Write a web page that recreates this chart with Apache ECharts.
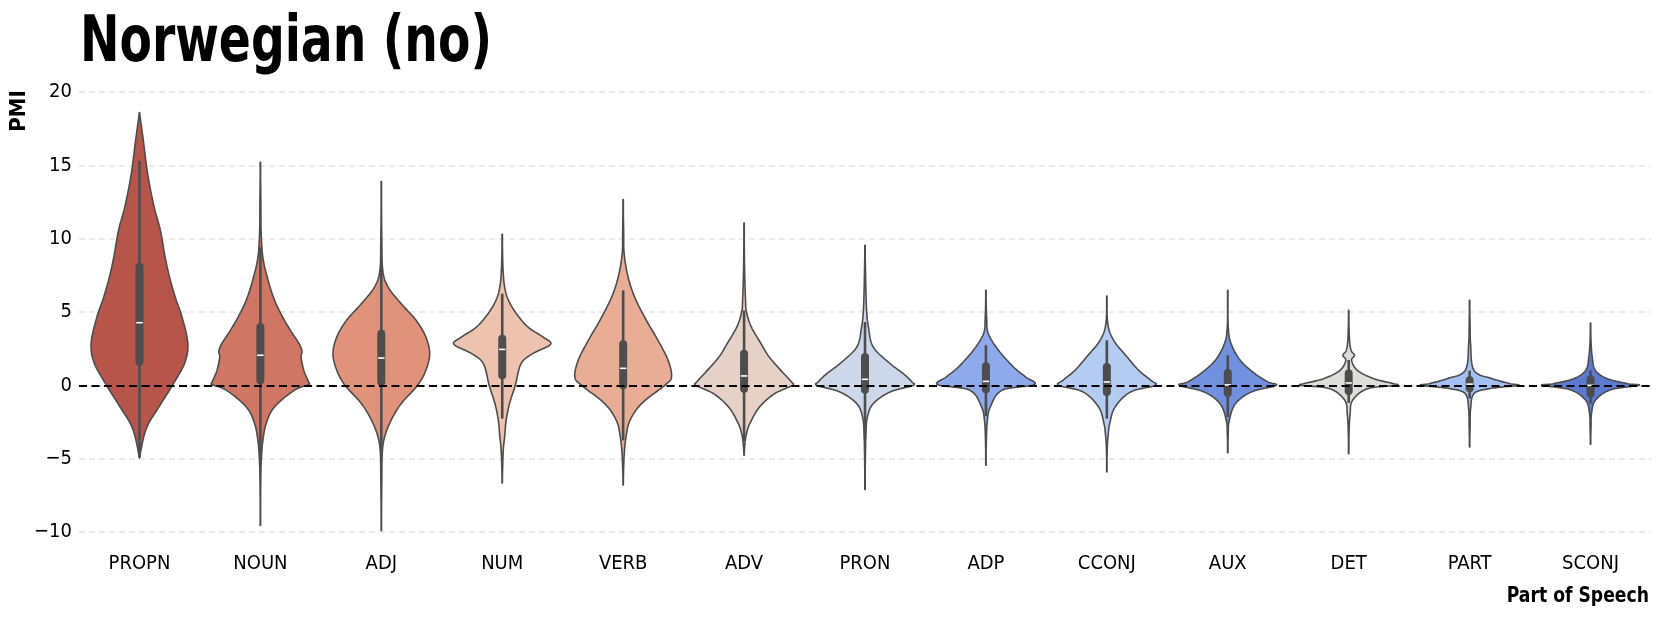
<!DOCTYPE html>
<html>
<head>
<meta charset="utf-8">
<script src="https://cdn.jsdelivr.net/npm/echarts@6/dist/echarts.min.js"></script>
<style>
html,body{margin:0;padding:0;background:#fff;}
#chart{width:1661px;height:619px;}
</style>
</head>
<body>
<div id="chart"></div>
<script>
const FONT = "'DejaVu Sans Condensed', 'Roboto', sans-serif";

const categories = ['PROPN','NOUN','ADJ','NUM','VERB','ADV','PRON','ADP','CCONJ','AUX','DET','PART','SCONJ'];
const colors = ['#b8554b','#d07664','#e0927b','#edc3b0','#e9ad96','#e6d1c6','#ccd8ea','#8eaaec','#b5ccf2','#7190e0','#dddddc','#a3c0f4','#5d7ad3'];
const yTicks = [-10, -5, 0, 5, 10, 15, 20];

// box statistics
const q1          = [1.6, 0.34, 0.23, 0.68, 0.0, -0.23, -0.3, -0.27, -0.45, -0.52, -0.39, -0.2, -0.57];
const medians     = [4.27, 2.05, 1.86, 2.45, 1.16, 0.64, 0.41, 0.27, 0.23, 0.03, 0.16, 0.08, 0.0];
const q3          = [8.07, 3.98, 3.52, 3.18, 2.8, 2.16, 1.93, 1.3, 1.25, 0.84, 0.8, 0.35, 0.39];
const whiskerLow  = [-4.9, -5.1, -4.7, -2.27, -3.75, -3.8, -3.65, -2.1, -2.27, -2.16, -1.2, -0.9, -1.25];
const whiskerHigh = [15.3, 9.4, 8.46, 6.25, 6.48, 5.1, 4.32, 2.73, 3.07, 2.05, 1.73, 1.0, 1.02];

// violin outlines: [PMI value, relative half-width]
const shapePROPN = [[-4.95,0],[-3.5,0.09],[-2.6,0.19],[-1.48,0.40],[0,0.68],[1.48,0.93],[2.84,1.0],[4.66,0.88],[6.0,0.74],[7.4,0.62],[8.75,0.53],[10.6,0.43],[12.2,0.30],[14.4,0.17],[16.7,0.08],[18.6,0]];
const shapeNOUN  = [[-9.55,0],[-6.0,0.01],[-4.8,0.025],[-3.8,0.05],[-2.6,0.12],[-1.48,0.29],[-0.34,0.70],[0.05,1.0],[0.2,1.0],[1.0,0.90],[1.93,0.84],[2.3,0.86],[2.84,0.80],[3.75,0.62],[4.9,0.42],[6.0,0.27],[7.4,0.14],[8.75,0.05],[10.5,0.015],[12.5,0.01],[15.2,0]];
const shapeADJ   = [[-9.9,0],[-6.5,0.01],[-4.6,0.02],[-3.5,0.07],[-2.4,0.20],[-1.25,0.41],[0,0.75],[1.02,0.92],[2.16,1.0],[3.3,0.92],[4.43,0.72],[5.57,0.41],[6.7,0.14],[7.84,0.03],[10.0,0.01],[13.9,0]];
const shapeNUM   = [[-6.66,0],[-4.5,0.02],[-3.5,0.05],[-2.4,0.08],[-1.25,0.15],[0,0.27],[1.48,0.39],[2.16,0.63],[2.8,1.0],[3.3,0.84],[3.98,0.53],[4.9,0.29],[5.8,0.13],[6.7,0.05],[8.0,0.015],[10.3,0]];
const shapeVERB  = [[-6.8,0],[-4.8,0.02],[-3.5,0.06],[-2.4,0.14],[-1.25,0.38],[0,0.86],[0.57,1.0],[1.7,0.93],[3.07,0.72],[4.43,0.48],[6.0,0.24],[7.4,0.10],[8.98,0.02],[10.5,0.01],[12.66,0]];
const shapeADV   = [[-4.77,0],[-3.9,0.02],[-3.3,0.05],[-2.6,0.12],[-1.48,0.32],[-0.57,0.63],[0,1.0],[0.23,0.98],[1.02,0.76],[1.93,0.52],[2.84,0.35],[3.98,0.15],[5.0,0.05],[5.8,0.03],[8.0,0.01],[11.07,0]];
const shapePRON  = [[-7.1,0],[-4.5,0.01],[-3.2,0.02],[-2.16,0.05],[-1.25,0.17],[-0.45,0.52],[0,1.0],[0.23,0.97],[0.8,0.79],[1.48,0.52],[2.61,0.17],[3.98,0.07],[5.0,0.035],[6.25,0.02],[7.8,0.01],[9.55,0]];
const shapeADP   = [[-5.45,0],[-3.6,0.01],[-2.4,0.03],[-1.48,0.09],[-0.34,0.33],[0.05,1.0],[0.57,0.82],[1.25,0.57],[2.39,0.26],[3.52,0.05],[4.6,0.015],[6.48,0]];
const shapeCCONJ = [[-5.9,0],[-4.2,0.01],[-3.3,0.03],[-2.6,0.06],[-1.48,0.17],[-0.45,0.49],[0,1.0],[0.34,0.91],[1.02,0.66],[1.93,0.42],[3.07,0.14],[4.2,0.02],[6.09,0]];
const shapeAUX   = [[-4.6,0],[-3.3,0.01],[-2.4,0.03],[-1.25,0.16],[-0.45,0.49],[0,1.0],[0.23,0.83],[0.8,0.56],[1.7,0.26],[2.84,0.07],[3.98,0.01],[6.48,0]];
const shapeDET   = [[-4.66,0],[-3.0,0.01],[-1.93,0.03],[-1.02,0.08],[-0.23,0.39],[0,1.0],[0.11,0.93],[0.45,0.52],[1.02,0.18],[1.7,0.06],[2.05,0.12],[2.39,0.05],[3.2,0.015],[5.11,0]];
const shapePART  = [[-4.2,0],[-2.8,0.01],[-1.6,0.02],[-0.57,0.09],[-0.23,0.40],[0,1.0],[0.11,0.84],[0.45,0.47],[1.02,0.09],[2.84,0.02],[4.0,0.01],[5.8,0]];
const shapeSCONJ = [[-4.02,0],[-2.8,0.01],[-1.93,0.02],[-1.02,0.10],[-0.3,0.42],[0,1.0],[0.11,0.77],[0.45,0.35],[1.02,0.10],[1.93,0.035],[3.0,0.01],[4.25,0]];

const shapes = [shapePROPN, shapeNOUN, shapeADJ, shapeNUM, shapeVERB, shapeADV, shapePRON, shapeADP, shapeCCONJ, shapeAUX, shapeDET, shapePART, shapeSCONJ];

// smooth drawing of an outline (rendering only)
function densify(shp) {
  const out = [];
  const n = shp.length;
  for (let k = 0; k < n - 1; k++) {
    const p0 = shp[Math.max(0, k - 1)], p1 = shp[k], p2 = shp[k + 1], p3 = shp[Math.min(n - 1, k + 2)];
    const steps = 10;
    for (let s = 0; s < steps; s++) {
      const t = s / steps, t2 = t * t, t3 = t2 * t;
      const cr = (a, b, c, d) => 0.5 * ((2 * b) + (-a + c) * t + (2 * a - 5 * b + 4 * c - d) * t2 + (-a + 3 * b - 3 * c + d) * t3);
      let v = cr(p0[0], p1[0], p2[0], p3[0]);
      let w = cr(p0[1], p1[1], p2[1], p3[1]);
      const lo = Math.min(p1[1], p2[1]), hi = Math.max(p1[1], p2[1]);
      w = Math.max(lo, Math.min(hi * 1.02, w));
      out.push([v, w]);
    }
  }
  out.push(shp[n - 1]);
  return out;
}

const chart = echarts.init(document.getElementById('chart'), null, {renderer: 'canvas'});

function renderViolin(params, api) {
  const i = api.value(0);
  const cx = api.coord([i, 0])[0];
  const half = api.size([1, 0])[0] * 0.4;
  const pts = densify(shapes[i]);
  const right = pts.map(p => [cx + Math.max(p[1], 0.004) * half, api.coord([i, p[0]])[1]]);
  const left = pts.slice().reverse().map(p => [cx - Math.max(p[1], 0.004) * half, api.coord([i, p[0]])[1]]);
  const yq1 = api.coord([i, q1[i]])[1], yq3 = api.coord([i, q3[i]])[1];
  const ymed = api.coord([i, medians[i]])[1];
  const ywl = api.coord([i, whiskerLow[i]])[1], ywh = api.coord([i, whiskerHigh[i]])[1];
  return {
    type: 'group',
    children: [
      {type: 'polygon', shape: {points: right.concat(left)}, style: {fill: colors[i], stroke: '#4d4d4d', lineWidth: 1.6, lineJoin: 'round'}},
      {type: 'line', shape: {x1: cx, y1: ywl, x2: cx, y2: ywh}, style: {stroke: '#4d4d4d', lineWidth: 2.6}},
      {type: 'line', shape: {x1: cx, y1: yq1, x2: cx, y2: yq3}, style: {stroke: '#4d4d4d', lineWidth: 8, lineCap: 'round'}},
      {type: 'line', shape: {x1: cx - 3.2, y1: ymed, x2: cx + 3.2, y2: ymed}, style: {stroke: '#ffffff', lineWidth: 1.6}}
    ]
  };
}

const option = {
  animation: false,
  backgroundColor: '#ffffff',
  grid: {left: 79, right: 10, top: 92, bottom: 87, containLabel: false},
  xAxis: {
    type: 'category',
    data: categories,
    boundaryGap: true,
    axisLine: {show: false},
    axisTick: {show: false},
    splitLine: {show: false},
    axisLabel: {color: '#000', fontSize: 20, fontFamily: FONT, margin: 22}
  },
  yAxis: {
    type: 'value',
    min: -10, max: 20, interval: 5,
    axisLine: {show: false},
    axisTick: {show: false},
    axisLabel: {color: '#000', fontSize: 20, fontFamily: FONT, margin: 7,
      formatter: v => yTicks.indexOf(v) >= 0 ? (v < 0 ? '\u2212' + Math.abs(v) : String(v)) : ''},
    splitLine: {show: true, lineStyle: {color: '#e3e3e3', width: 1.5, type: [6, 4]}}
  },
  graphic: [
    {type: 'text', x: 80, y: 12, scaleX: 0.82, style: {text: 'Norwegian (no)', font: "bold 64px " + FONT, fill: '#000', verticalAlign: 'top'}},
    {type: 'text', x: 19, y: 111, rotation: Math.PI / 2, style: {text: 'PMI', font: "bold 22px " + FONT, fill: '#000', align: 'center', verticalAlign: 'middle'}},
    {type: 'text', x: 1649, y: 596, scaleX: 0.87, style: {text: 'Part of Speech', font: "bold 22px " + FONT, fill: '#000', align: 'right', verticalAlign: 'middle'}}
  ],
  series: [
    {
      type: 'custom',
      renderItem: renderViolin,
      data: categories.map((c, i) => [i]),
      encode: {x: 0},
      clip: false,
      z: 2
    },
    {
      type: 'line',
      data: [],
      z: 5,
      markLine: {
        silent: true,
        symbol: 'none',
        label: {show: false},
        lineStyle: {color: '#000', width: 2, type: [8, 4.5]},
        data: [{yAxis: 0}]
      }
    }
  ]
};
chart.setOption(option);
</script>
</body>
</html>
